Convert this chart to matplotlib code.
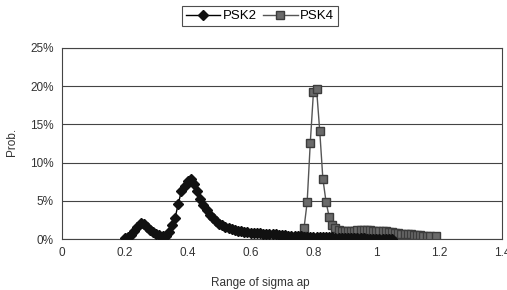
import numpy as np
import matplotlib.pyplot as plt
import matplotlib

matplotlib.rcParams['font.family'] = ['Liberation Sans', 'DejaVu Sans']

# PSK2: sigma ap 0.20 .. 1.05, step 0.01
psk2_x = np.round(np.arange(0.20, 1.055, 0.01), 2)
psk2_y = [0.1, 0.2, 0.5, 1.0, 1.6, 2.1, 2.0, 1.6, 1.2, 0.9,
          0.7, 0.5, 0.4, 0.4, 0.9, 1.8, 2.8, 4.6, 6.3, 7.0,
          7.6, 7.8, 7.2, 6.3, 5.3, 4.5, 3.8, 3.2, 2.7, 2.3,
          2.0, 1.8, 1.6, 1.45, 1.3, 1.2, 1.1, 1.0, 0.95, 0.9,
          0.85, 0.8, 0.8, 0.75, 0.7, 0.7, 0.65, 0.6, 0.6, 0.55,
          0.5, 0.5, 0.45, 0.4, 0.4, 0.35, 0.35, 0.3, 0.3, 0.3,
          0.25, 0.25, 0.25, 0.2, 0.2, 0.2, 0.2, 0.15, 0.15, 0.15,
          0.15, 0.1, 0.1, 0.1, 0.1, 0.1, 0.1, 0.05, 0.05, 0.05,
          0.05, 0.05, 0.05, 0.05, 0.05, 0.05]

# PSK4: sigma ap 0.75 .. 1.17, then 1.19
psk4_x = list(np.round(np.arange(0.75, 1.175, 0.01), 2)) + [1.19]
psk4_y = [0.1, 0.4, 1.4, 4.8, 12.6, 19.2, 19.6, 14.2, 7.9, 4.9,
          2.9, 1.8, 1.4, 1.2, 1.1, 1.1, 1.1, 1.1, 1.1, 1.15,
          1.2, 1.2, 1.2, 1.15, 1.1, 1.1, 1.0, 1.0, 1.0, 0.9,
          0.9, 0.8, 0.8, 0.7, 0.7, 0.6, 0.6, 0.5, 0.5, 0.5,
          0.4, 0.4, 0.4, 0.4]

x_ticks = [0, 0.2, 0.4, 0.6, 0.8, 1.0, 1.2, 1.4]
x_tick_labels = ['0', '0.2', '0.4', '0.6', '0.8', '1', '1.2', '1.4']
y_ticks = [0, 5, 10, 15, 20, 25]
y_tick_labels = ['0%', '5%', '10%', '15%', '20%', '25%']

fig = plt.figure(figsize=(5.07, 2.90), dpi=100, facecolor='white')
ax = fig.add_axes([62 / 507, 51 / 290, 440 / 507, 191 / 290])

l2, = ax.plot(psk2_x, psk2_y, '-', color='black', marker='D', markersize=5,
              markerfacecolor='#111111', markeredgecolor='#111111', linewidth=1.0,
              label='PSK2', zorder=3)
l4, = ax.plot(psk4_x, psk4_y, '-', color='#555555', marker='s', markersize=5.5,
              markerfacecolor='#6a6a6a', markeredgecolor='#3c3c3c', linewidth=1.0,
              label='PSK4', zorder=2)

ax.set_xlim(0, 1.4)
ax.set_ylim(0, 25)
ax.set_xticks(x_ticks)
ax.set_xticklabels(x_tick_labels)
ax.set_yticks(y_ticks)
ax.set_yticklabels(y_tick_labels)
ax.tick_params(axis='both', length=0, labelsize=8.5, colors='#333333', pad=6)
ax.yaxis.grid(True, color='#444444', linewidth=0.8)
ax.set_axisbelow(True)
for s in ax.spines.values():
    s.set_color('#444444')
    s.set_linewidth(0.8)

fig.text(260 / 507, 1 - 283 / 290, 'Range of sigma ap', ha='center', va='center',
         fontsize=8.5, color='#333333')
fig.text(12 / 507, 1 - 142 / 290, 'Prob.', ha='center', va='center', rotation=90,
         fontsize=8.5, color='#333333')

leg = fig.legend(handles=[l2, l4], loc='center', bbox_to_anchor=(260 / 507, 1 - 16 / 290),
                 ncol=2, fontsize=9.5, frameon=True, fancybox=False, handlelength=2.6,
                 handletextpad=0.2, columnspacing=0.5, borderpad=0.3)
leg.get_frame().set_edgecolor('#222222')
leg.get_frame().set_linewidth(0.8)

plt.savefig('out.png', dpi=100, facecolor='white')
